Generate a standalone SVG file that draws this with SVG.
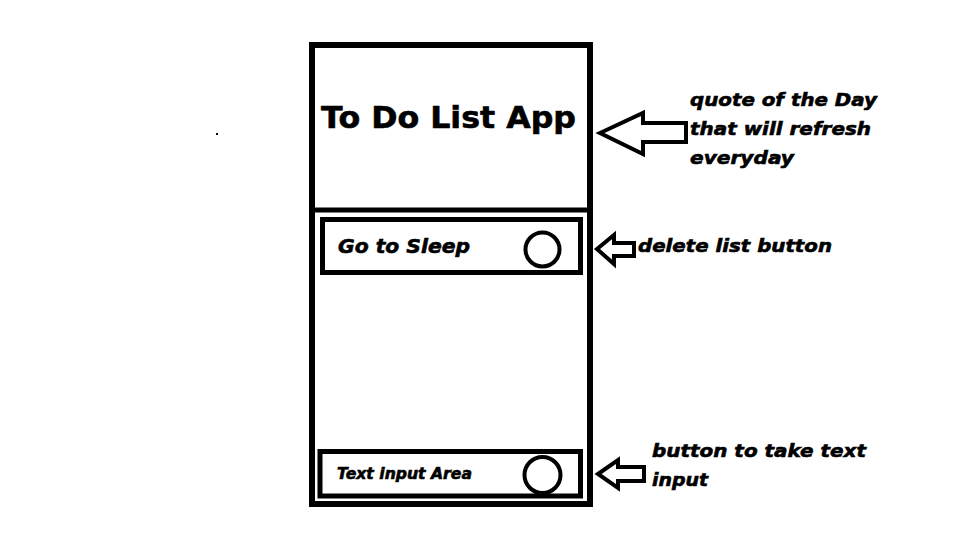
<svg xmlns="http://www.w3.org/2000/svg" width="960" height="540" viewBox="0 0 960 540">
<style>
.box{fill:#fff;stroke:#000}
.t{font-family:"DejaVu Sans","Liberation Sans",Arial,sans-serif;font-weight:bold;fill:#000;stroke:#000;stroke-width:0.6}
.i{font-style:italic}
.arrow{fill:#fff;stroke:#000;stroke-width:4;stroke-linejoin:miter}
.btn{fill:#fff;stroke:#000;stroke-width:4}
</style>
<rect width="960" height="540" fill="#fff"/>
<rect x="216" y="133" width="2" height="2" fill="#000"/>
<g id="phone">
<rect class="box" x="312" y="45" width="278" height="459" stroke-width="6"/>
<line x1="309" y1="210" x2="593" y2="210" stroke="#000" stroke-width="5"/>
</g>
<g id="header">
<text class="t" x="321" y="128" font-size="31" textLength="255" lengthAdjust="spacingAndGlyphs">To Do List App</text>
</g>
<g id="item">
<rect class="box" x="322.5" y="219.5" width="258" height="53" stroke-width="5"/>
<text class="t i" x="338" y="253" font-size="19" textLength="132" lengthAdjust="spacingAndGlyphs">Go to Sleep</text>
<circle class="btn" cx="542.5" cy="249.5" r="17"/>
</g>
<g id="input">
<rect class="box" x="320" y="451.5" width="260.5" height="44.5" stroke-width="5"/>
<text class="t i" x="337" y="479" font-size="15" textLength="135" lengthAdjust="spacingAndGlyphs">Text input Area</text>
<circle class="btn" cx="542.5" cy="475" r="18"/>
</g>
<g id="connectors">
<polygon class="arrow" points="600,133 643,113 643,123 686,123 686,142 643,142 643,154"/>
<polygon class="arrow" points="597,249 614,235 614,243 634,243 634,256 614,256 614,264"/>
<polygon class="arrow" points="598,474 618,460 618,467 644,467 644,481 618,481 618,488"/>
</g>
<g id="label-quote">
<text class="t i" x="690" y="106" font-size="18" textLength="187" lengthAdjust="spacingAndGlyphs">quote of the Day</text>
<text class="t i" x="690" y="135" font-size="18" textLength="181" lengthAdjust="spacingAndGlyphs">that will refresh</text>
<text class="t i" x="690" y="164" font-size="18" textLength="104" lengthAdjust="spacingAndGlyphs">everyday</text>
</g>
<g id="label-delete">
<text class="t i" x="638" y="252" font-size="18" textLength="194" lengthAdjust="spacingAndGlyphs">delete list button</text>
</g>
<g id="label-button">
<text class="t i" x="652" y="457" font-size="18" textLength="214" lengthAdjust="spacingAndGlyphs">button to take text</text>
<text class="t i" x="652" y="486" font-size="18" textLength="56" lengthAdjust="spacingAndGlyphs">input</text>
</g>
</svg>
